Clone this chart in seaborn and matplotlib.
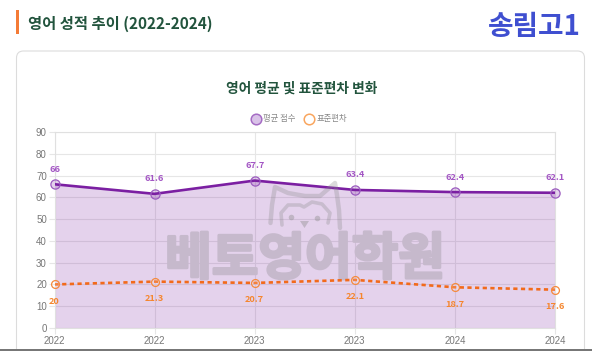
import matplotlib
matplotlib.use('Agg')
import pandas as pd
import seaborn as sns
import matplotlib.pyplot as plt
import matplotlib.patheffects as pe
from matplotlib.patches import FancyBboxPatch, Rectangle, Polygon

sns.set_theme(style='white')
plt.rcParams['font.family'] = ['Noto Sans CJK KR', 'DejaVu Sans']

labels = ['2022', '2022', '2023', '2023', '2024', '2024']
mean_scores = [66, 61.6, 67.7, 63.4, 62.4, 62.1]
std_devs = [20, 21.3, 20.7, 22.1, 18.7, 17.6]
y_ticks = [0, 10, 20, 30, 40, 50, 60, 70, 80, 90]

W, H = 592, 351
purple = '#7b1fa2'
orange = '#f26a1b'
green = '#22543d'
mark = '#8a8a8a'
mark_solid = '#c6b9cc'

df = pd.DataFrame({'pos': range(len(labels)), 'mean': mean_scores, 'std': std_devs})

fig = plt.figure(figsize=(W / 100, H / 100), dpi=100)
bg = fig.add_axes([0, 0, 1, 1], zorder=0)
bg.set_xlim(0, W)
bg.set_ylim(H, 0)
bg.axis('off')

# card and header
bg.add_patch(FancyBboxPatch((16.5, 51), 568, 340, boxstyle='round,pad=0,rounding_size=7',
                            fc='white', ec='#dcdcdc', lw=0.8))
bg.add_patch(Rectangle((16, 10), 3, 24, fc='#f47b36', ec='none'))
bg.text(28, 24, '영어 성적 추이 (2022-2024)', fontsize=11.05, fontweight='bold', color=green,
        ha='left', va='center')
bg.text(581, 27, '송림고1', fontsize=20, fontweight='bold', color='#3f4fd0', ha='right', va='center')
bg.text(301.5, 89, '영어 평균 및 표준편차 변화', fontsize=9.9, fontweight='bold', color=green,
        ha='center', va='center')

# legend
bg.scatter([256], [119], s=58, fc='#d9c2e8', ec='#a56cc4', lw=1.1)
bg.text(263, 119, '평균 점수', fontsize=6, color='#888888', ha='left', va='center')
bg.scatter([309], [119], s=58, fc='white', ec='#f9a65f', lw=1.1)
bg.text(317, 119, '표준편차', fontsize=6, color='#888888', ha='left', va='center')

ax = fig.add_axes([54.5 / W, 1 - 328 / H, (555 - 54.5) / W, (328 - 132) / H], zorder=1)
ax.patch.set_alpha(0)
ax.fill_between(df['pos'], df['mean'], 0, color=purple, alpha=0.2, lw=0, zorder=2)
sns.lineplot(data=df, x='pos', y='mean', color=purple, lw=1.9, ax=ax, zorder=3)
sns.lineplot(data=df, x='pos', y='std', color=orange, lw=1.9, ax=ax, zorder=3, linestyle=(0, (1.6, 1.3)))
ax.scatter(df['pos'], df['mean'], s=44, fc=(0.48, 0.12, 0.64, 0.2), ec='#9c5cc0', lw=0.9, zorder=4, clip_on=False)
ax.scatter(df['pos'], df['std'], s=32, fc=(1, 1, 1, 0.15), ec='#f58a3c', lw=0.9, zorder=4, clip_on=False)

for i, (m, s) in enumerate(zip(mean_scores, std_devs)):
    ax.annotate(str(m), (i, m), xytext=(0, 10.8), textcoords='offset points', ha='center', va='center',
                fontsize=6.6, fontweight='bold', color='#a356c4', zorder=5, annotation_clip=False)
    ax.annotate(str(s), (i, s), xytext=(0, -12.2), textcoords='offset points', ha='center', va='center',
                fontsize=6.6, fontweight='bold', color='#f5862e', zorder=5, annotation_clip=False)

ax.set_xlim(0, 5)
ax.set_ylim(0, 90)
ax.set_xticks(range(len(labels)))
ax.set_xticklabels(labels, family='Liberation Sans')
ax.set_yticks(y_ticks)
ax.set_yticklabels(y_ticks, family='Liberation Sans')
ax.set_xlabel('')
ax.set_ylabel('')
ax.grid(True, color='#e6e6e6', lw=0.8, zorder=0)
ax.set_axisbelow(True)
ax.tick_params(axis='both', length=4, width=0.8, color='#e6e6e6', labelcolor='#777777', labelsize=7, pad=1.5,
               left=True, bottom=True)
sns.despine(ax=ax, left=False, bottom=False, right=False, top=False)
for sp in ax.spines.values():
    sp.set_color('#e0e0e0')
    sp.set_linewidth(0.8)

# watermark sits over the fill but under the lines
top = fig.add_axes([0, 0, 1, 1], zorder=2)
top.set_xlim(0, W)
top.set_ylim(H, 0)
top.axis('off')
ax.text(305, 260, '베토영어학원', fontsize=36.5, fontweight='bold', color=mark_solid, transform=top.transData,
        ha='center', va='center', zorder=2.5, path_effects=[pe.withStroke(linewidth=2, foreground=mark_solid)])

# cat logo, pixel outline traced by eye
head_x = [270.5, 272, 275, 288, 305, 320, 335, 337, 339, 340]
head_y = [223, 205, 187, 193, 196, 196, 183, 195, 210, 228]
face_x = [282, 281, 288, 300, 304, 312, 322, 330, 328]
face_y = [225, 213, 205, 205, 207, 202, 204, 213, 223]
top.plot(head_x, head_y, color=mark, alpha=0.3, lw=3.2, solid_capstyle='round')
top.plot(face_x, face_y, color=mark, alpha=0.3, lw=2.6, solid_capstyle='round')
top.scatter([291, 317], [216.5, 217.5], s=16, color=mark, alpha=0.4, lw=0)
top.add_patch(Polygon([(300, 221), (309, 221), (304.5, 228)], fc=mark, alpha=0.4, ec='none'))
top.add_patch(Rectangle((0, 349), W, 2, fc='#777777', ec='none'))

fig.savefig('out.png', dpi=100)
